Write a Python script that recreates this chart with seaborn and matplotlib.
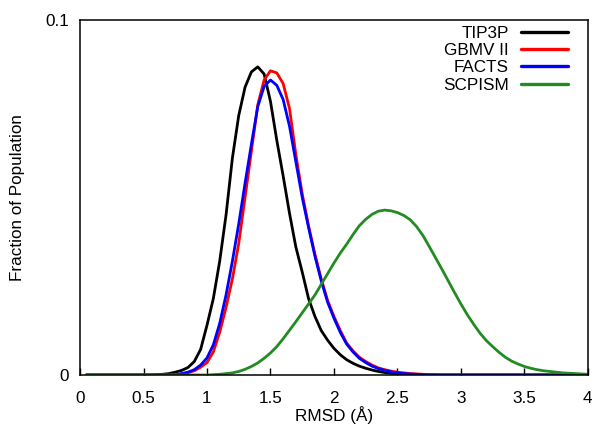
import numpy as np
import pandas as pd
import matplotlib
matplotlib.use("Agg")
import matplotlib.pyplot as plt
import seaborn as sns

# RMSD grid (Å), 0.05 .. 4.00
rmsd = [round(0.05 * i, 2) for i in range(1, 81)]

tip3p = [0, 0, 0, 0, 0, 0, 0, 0, 0, 0, 0,
         0.0001, 0.0002, 0.0004, 0.0008, 0.0013, 0.0021, 0.0038, 0.0072, 0.0140,
         0.0215, 0.0320, 0.0450, 0.0610, 0.0730, 0.0810, 0.0853, 0.0867, 0.0847, 0.0770,
         0.0660, 0.0560, 0.0455, 0.0360, 0.0290, 0.0215, 0.0165, 0.0125, 0.0098, 0.0075,
         0.0057, 0.0043, 0.0033, 0.0025, 0.0019, 0.0014, 0.0010, 0.0007, 0.0005, 0.0003,
         0.0002, 0.0001, 0, 0, 0, 0, 0, 0, 0, 0,
         0, 0, 0, 0, 0, 0, 0, 0, 0, 0,
         0, 0, 0, 0, 0, 0, 0, 0, 0, 0]

gbmv = [0, 0, 0, 0, 0, 0, 0, 0, 0, 0, 0, 0, 0, 0, 0,
        0.0003, 0.0006, 0.0012, 0.0022, 0.0035,
        0.0065, 0.0120, 0.0190, 0.0270, 0.0370, 0.0500, 0.0630, 0.0760, 0.0830, 0.0856,
        0.0850, 0.0820, 0.0750, 0.0620, 0.0510, 0.0420, 0.0340, 0.0270, 0.0210, 0.0165,
        0.0125, 0.0090, 0.0068, 0.0050, 0.0038, 0.0028, 0.0020, 0.0015, 0.0011, 0.0008,
        0.0006, 0.0004, 0.0003, 0.0002, 0.0001, 0.0001, 0, 0, 0, 0,
        0, 0, 0, 0, 0, 0, 0, 0, 0, 0,
        0, 0, 0, 0, 0, 0, 0, 0, 0, 0]

facts = [0, 0, 0, 0, 0, 0, 0, 0, 0, 0, 0, 0, 0, 0, 0,
         0.0004, 0.0008, 0.0015, 0.0028, 0.0048,
         0.0085, 0.0145, 0.0225, 0.0320, 0.0425, 0.0540, 0.0650, 0.0755, 0.0812, 0.0830,
         0.0815, 0.0775, 0.0700, 0.0600, 0.0500, 0.0415, 0.0335, 0.0265, 0.0205, 0.0160,
         0.0120, 0.0087, 0.0065, 0.0047, 0.0035, 0.0025, 0.0018, 0.0013, 0.0009, 0.0006,
         0.0004, 0.0003, 0.0002, 0.0001, 0, 0, 0, 0, 0, 0,
         0, 0, 0, 0, 0, 0, 0, 0, 0, 0,
         0, 0, 0, 0, 0, 0, 0, 0, 0, 0]

scpism = [0, 0, 0, 0, 0, 0, 0, 0, 0, 0, 0, 0, 0, 0, 0, 0, 0, 0, 0, 0,
          0.0001, 0.0002, 0.0004, 0.0006, 0.0010, 0.0016, 0.0024, 0.0034, 0.0047, 0.0062,
          0.0080, 0.0102, 0.0126, 0.0150, 0.0175, 0.0200, 0.0225, 0.0255, 0.0285, 0.0315,
          0.0343, 0.0368, 0.0395, 0.0420, 0.0438, 0.0452, 0.0461, 0.0464, 0.0462, 0.0457,
          0.0449, 0.0437, 0.0418, 0.0393, 0.0362, 0.0330, 0.0298, 0.0265, 0.0232, 0.0200,
          0.0170, 0.0143, 0.0118, 0.0097, 0.0080, 0.0064, 0.0050, 0.0039, 0.0031, 0.0024,
          0.0019, 0.0015, 0.0012, 0.0010, 0.0008, 0.0006, 0.0005, 0.0004, 0.0003, 0.0002]

series_names = ["TIP3P", "GBMV II", "FACTS", "SCPISM"]
series_vals = [tip3p, gbmv, facts, scpism]
colors = ["#000000", "#ff0000", "#0000ff", "#228b22"]

xticks = [0, 0.5, 1, 1.5, 2, 2.5, 3, 3.5, 4]
xtick_labels = ["0", "0.5", "1", "1.5", "2", "2.5", "3", "3.5", "4"]
yticks = [0, 0.1]
ytick_labels = ["0", "0.1"]

frames = []
for name, vals in zip(series_names, series_vals):
    frames.append(pd.DataFrame({"RMSD": rmsd, "frac": vals, "series": name}))
df = pd.concat(frames, ignore_index=True)

sns.set_style("white")
plt.rcParams["font.family"] = ["Liberation Sans", "DejaVu Sans"]
plt.rcParams["text.color"] = "black"
plt.rcParams["axes.labelcolor"] = "black"
plt.rcParams["xtick.color"] = "black"
plt.rcParams["ytick.color"] = "black"

FS = 12.3
fig = plt.figure(figsize=(5.95, 4.26), dpi=100)
ax = fig.add_axes([0.1345, 0.1197, 0.988 - 0.1345, 0.954 - 0.1197])

sns.lineplot(data=df, x="RMSD", y="frac", hue="series", hue_order=series_names,
             palette=colors, linewidth=2.0, ax=ax, legend=True, sort=False,
             estimator=None)

ax.set_xlim(0, 4)
ax.set_ylim(0, 0.1)
ax.set_xticks(xticks)
ax.set_xticklabels(xtick_labels)
ax.set_yticks(yticks)
ax.set_yticklabels(ytick_labels)
ax.tick_params(axis="x", direction="in", length=5, width=1.0, color="black",
               labelcolor="black", labelsize=FS, pad=11.5, bottom=True, top=False)
ax.tick_params(axis="y", length=0, labelsize=FS, labelcolor="black", pad=8, left=True)
for s in ax.spines.values():
    s.set_visible(True)
    s.set_color("black")
    s.set_linewidth(1.1)

ax.set_xlabel("RMSD (Å)", fontsize=FS, color="black")
ax.xaxis.set_label_coords(0.5, -0.088)
ax.set_ylabel("Fraction of Population", fontsize=FS, color="black")
ax.yaxis.set_label_coords(-0.108, 0.5)

handles, labels = ax.get_legend_handles_labels()
leg = ax.legend(handles, labels, loc="upper right", markerfirst=False,
                frameon=False, fontsize=FS, handlelength=2.75,
                handletextpad=0.7, labelspacing=0.13,
                borderaxespad=0, borderpad=0, bbox_to_anchor=(0.961, 0.982))
for t in leg.get_texts():
    t.set_color("black")
for h in leg.get_lines():
    h.set_linewidth(2.4)

fig.savefig("out.png", dpi=100)
